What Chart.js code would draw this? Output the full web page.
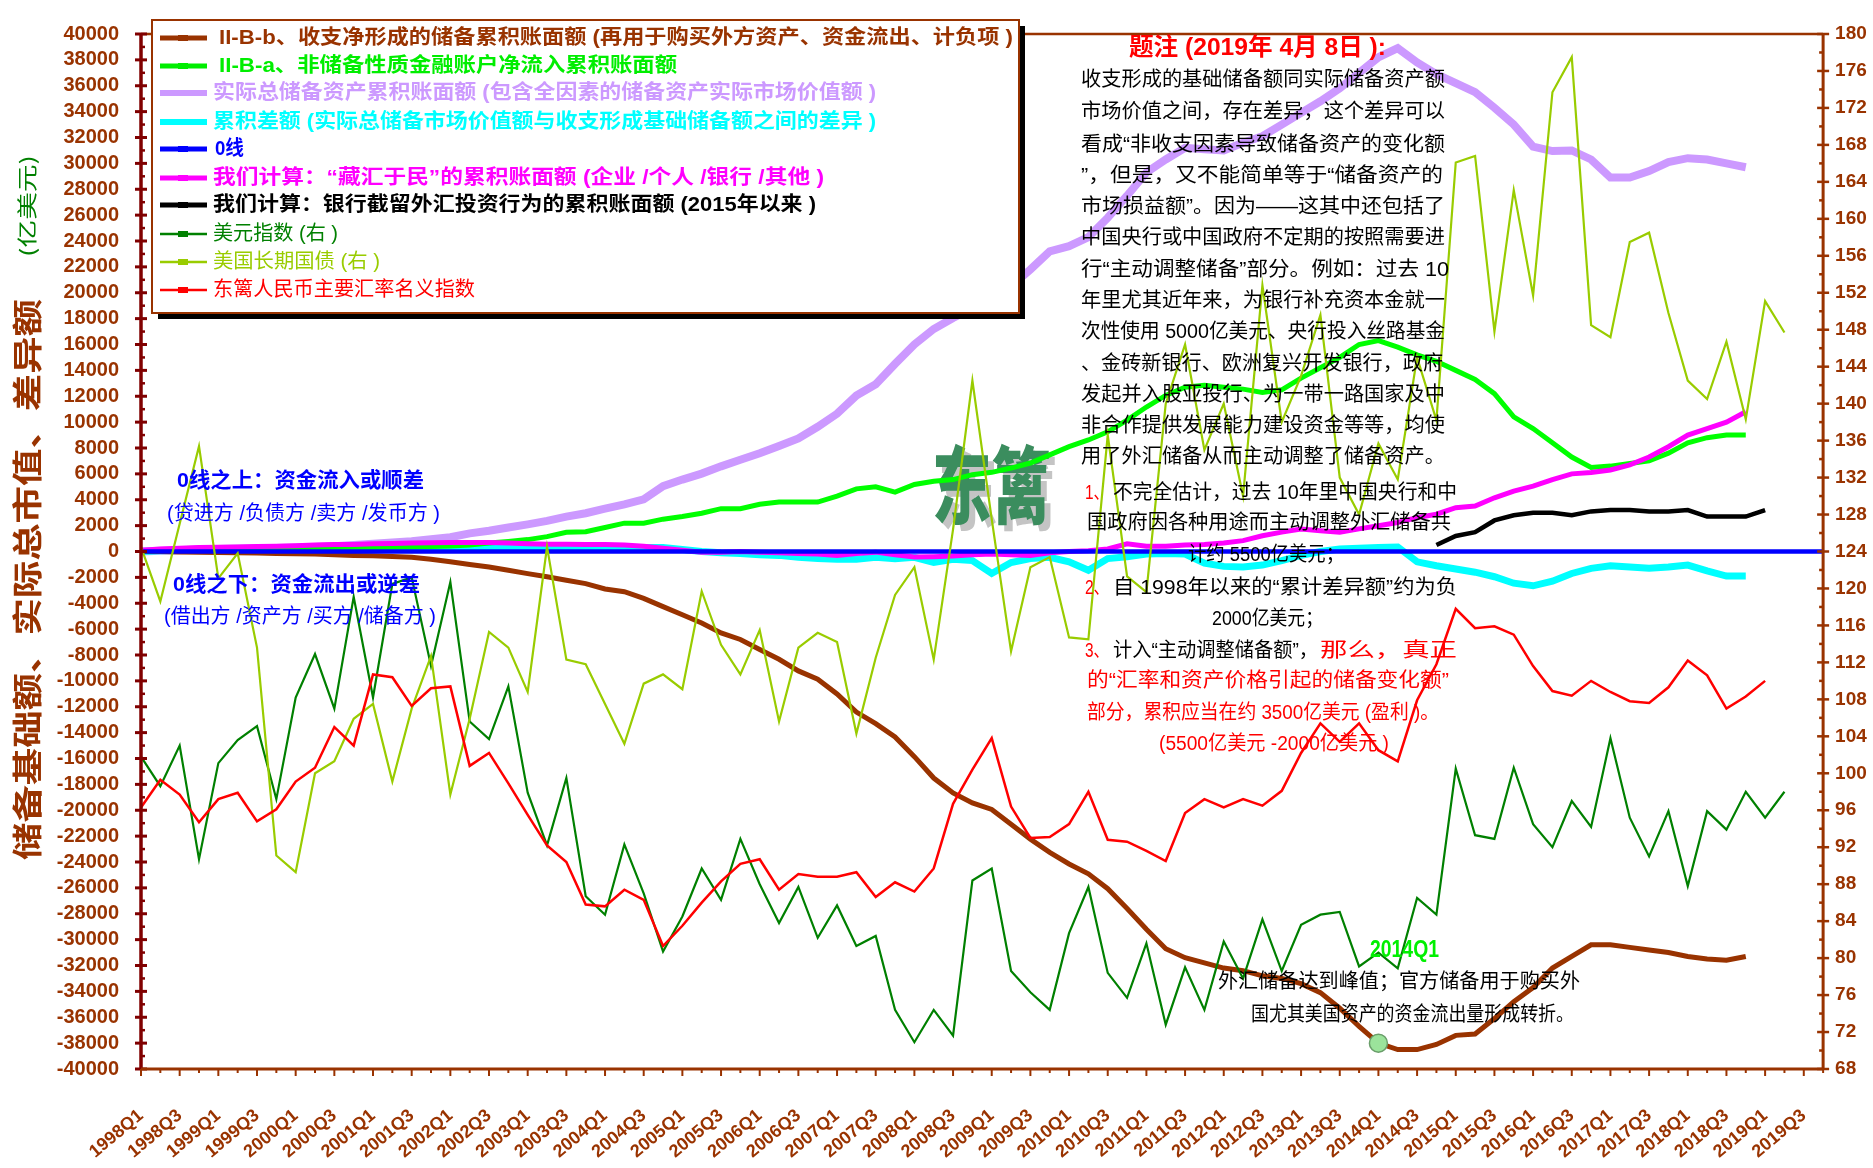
<!DOCTYPE html>
<html lang="zh">
  <head>
    <meta charset="UTF-8" />
    <title>储备基础额、实际总市值、差异额</title>
    <style>
      html, body { margin: 0; padding: 0; background: #ffffff; overflow: hidden; }
      .chartBox { width: 1873px; height: 1168px; }
      canvas { display: block; }
    </style>
  </head>
  <body>
    <div class="chartBox"><canvas id="myChart"></canvas></div>
    <script src="https://cdn.jsdelivr.net/npm/chart.js@4"></script>
    <script>
      // quarters on the x axis (labels shown every second quarter)
      const quarters = [
        "1998Q1","1998Q2","1998Q3","1998Q4","1999Q1","1999Q2","1999Q3","1999Q4",
        "2000Q1","2000Q2","2000Q3","2000Q4","2001Q1","2001Q2","2001Q3","2001Q4",
        "2002Q1","2002Q2","2002Q3","2002Q4","2003Q1","2003Q2","2003Q3","2003Q4",
        "2004Q1","2004Q2","2004Q3","2004Q4","2005Q1","2005Q2","2005Q3","2005Q4",
        "2006Q1","2006Q2","2006Q3","2006Q4","2007Q1","2007Q2","2007Q3","2007Q4",
        "2008Q1","2008Q2","2008Q3","2008Q4","2009Q1","2009Q2","2009Q3","2009Q4",
        "2010Q1","2010Q2","2010Q3","2010Q4","2011Q1","2011Q2","2011Q3","2011Q4",
        "2012Q1","2012Q2","2012Q3","2012Q4","2013Q1","2013Q2","2013Q3","2013Q4",
        "2014Q1","2014Q2","2014Q3","2014Q4","2015Q1","2015Q2","2015Q3","2015Q4",
        "2016Q1","2016Q2","2016Q3","2016Q4","2017Q1","2017Q2","2017Q3","2017Q4",
        "2018Q1","2018Q2","2018Q3","2018Q4","2019Q1","2019Q2","2019Q3","2019Q4",
      ];

      // left axis, 亿美元
      const bopReserves = [
        0, 0, -30, -60, -80, -100, -120, -150, -170, -200,
        -250, -300, -330, -380, -450, -600, -800, -1000, -1200, -1450,
        -1710, -1950, -2220, -2480, -2900, -3110, -3620, -4260, -4890, -5530,
        -6290, -6800, -7570, -8330, -9230, -9870, -11010, -12410, -13310, -14330,
        -15860, -17510, -18660, -19430, -19940, -21080, -22230, -23250, -24150, -24910,
        -26060, -27600, -29200, -30700, -31400, -31800, -32200, -32400, -32800, -33000,
        -33400, -34100, -35300, -36700, -38000, -38500, -38500, -38100, -37400, -37300,
        -36100, -34800, -33700, -32200, -31300, -30400, -30400, -30600, -30800, -31000,
        -31300, -31500, -31600, -31300,
      ];
      const nonReserveFlows = [
        0, 50, 100, 120, 150, 150, 180, 200, 200, 230,
        250, 270, 300, 320, 350, 380, 420, 500, 650, 780,
        920, 1150, 1480, 1530, 1860, 2190, 2190, 2500, 2700, 2960,
        3310, 3310, 3650, 3820, 3820, 3820, 4280, 4840, 5000, 4590,
        5180, 5430, 5560, 5940, 6120, 6450, 6840, 7470, 8110, 8620,
        9250, 10150, 11170, 12060, 12700, 12850, 12700, 12550, 12300, 12500,
        13400, 14200, 15000, 16000, 16300, 15800, 15200, 14700, 14000, 13300,
        12200, 10400, 9500, 8400, 7300, 6500, 6600, 6800, 7000, 7600,
        8400, 8800, 9000, 9000,
      ];
      const totalReserves = [
        0, 50, 100, 150, 200, 230, 250, 280, 300, 350,
        400, 500, 600, 700, 800, 950, 1100, 1400, 1600, 1850,
        2100, 2370, 2700, 2960, 3310, 3650, 4030, 5050, 5560, 6020,
        6580, 7090, 7590, 8160, 8740, 9640, 10650, 12060, 12930, 14500,
        16000, 17200, 18050, 18800, 19700, 20500, 21800, 23200, 23600, 24300,
        25800, 27500, 29300, 30300, 31200, 31100, 31000, 31600, 32100, 33000,
        33900, 34800, 35800, 37000, 38200, 38900, 37800, 36900, 36200, 35500,
        34300, 33000, 31300, 30950, 31000, 30300, 28900, 28900, 29400, 30100,
        30400, 30300, 30000, 29700,
      ];
      const reserveGap = [
        0, 50, 80, 100, 100, 100, 120, 120, 150, 150,
        150, 150, 200, 200, 200, 200, 250, 250, 250, 300,
        300, 300, 300, 300, 300, 300, 300, 300, 150, 0,
        -100, -150, -250, -300, -450, -550, -600, -600, -450, -560,
        -450, -850, -600, -700, -1700, -850, -550, -450, -800, -1450,
        -550, -400, -200, -150, -200, -900, -1150, -1200, -1050, -700,
        -300, 0, 200, 250, 300, 350, -800, -1100, -1350, -1600,
        -1950, -2450, -2650, -2300, -1700, -1300, -1100, -1200, -1300, -1200,
        -1050, -1500, -1900, -1900,
      ];
      const zeroLine = [
        0, 0, 0, 0, 0, 0, 0, 0, 0, 0, 0, 0, 0, 0, 0, 0, 0, 0, 0, 0, 0, 0,
        0, 0, 0, 0, 0, 0, 0, 0, 0, 0, 0, 0, 0, 0, 0, 0, 0, 0, 0, 0, 0, 0,
        0, 0, 0, 0, 0, 0, 0, 0, 0, 0, 0, 0, 0, 0, 0, 0, 0, 0, 0, 0, 0, 0,
        0, 0, 0, 0, 0, 0, 0, 0, 0, 0, 0, 0, 0, 0, 0, 0, 0, 0, 0, 0, 0, 0,
      ];
      const householdFx = [
        100, 200, 250, 300, 330, 350, 380, 400, 450, 500,
        550, 550, 600, 620, 650, 680, 700, 700, 700, 650,
        600, 560, 560, 550, 550, 500, 400, 250, 100, -50,
        -50, 0, -50, -100, -150, -200, -300, -150, -50, -250,
        -430, -400, -350, -250, -200, -250, -300, -100, 0, 50,
        200, 590, 400, 400, 500, 550, 650, 840, 1220, 1500,
        1730, 1600, 1480, 1750, 1990, 2240, 2620, 2880, 3390, 3510,
        4150, 4670, 5050, 5560, 6000, 6100, 6300, 6700, 7300, 8100,
        9000, 9500, 10000, 10800,
      ];
      const bankRetained = [
        null, null, null, null, null, null, null, null, null, null,
        null, null, null, null, null, null, null, null, null, null,
        null, null, null, null, null, null, null, null, null, null,
        null, null, null, null, null, null, null, null, null, null,
        null, null, null, null, null, null, null, null, null, null,
        null, null, null, null, null, null, null, null, null, null,
        null, null, null, null, null, null, null,
        500, 1200, 1500, 2400, 2800, 3000, 3000, 2800, 3100, 3200,
        3200, 3100, 3100, 3200, 2700, 2700, 2700, 3200,
      ];

      // right axis
      const usdIndex = [
        101.8, 98.6, 103.0, 90.7, 101.1, 103.6, 105.1, 97.2, 108.2, 112.9,
        107.0, 119.1, 108.2, 120.5, 121.2, 111.6, 120.7, 105.6, 103.7, 109.4,
        97.9, 92.2, 99.5, 86.7, 84.7, 92.3, 87.0, 80.7, 84.5, 89.7,
        86.3, 92.9, 88.0, 83.8, 87.7, 82.2, 85.7, 81.3, 82.4, 74.4,
        70.9, 74.4, 71.6, 88.4, 89.7, 78.6, 76.3, 74.4, 82.7, 87.7,
        78.4, 75.7, 81.6, 72.8, 79.0, 74.4, 81.8, 77.8, 84.2, 78.6,
        83.6, 84.7, 85.0, 79.1, 80.6, 78.9, 86.5, 84.7, 100.5, 93.3,
        92.9, 100.6, 94.5, 92.0, 97.0, 94.2, 103.8, 95.2, 91.0, 95.9,
        87.8, 95.9, 93.9, 98.0, 95.2, 98.0,
      ];
      const usTreasury = [
        124.5, 118.6, 127.0, 135.4, 121.1, 123.8, 113.6, 91.1, 89.3, 100.0,
        101.3, 105.9, 107.5, 99.1, 107.0, 112.7, 97.7, 105.9, 115.3, 113.6,
        108.8, 124.5, 112.3, 111.8, 107.5, 103.2, 109.7, 110.7, 109.1, 119.7,
        113.9, 110.7, 115.5, 105.6, 113.6, 115.2, 114.2, 104.3, 112.5, 119.3,
        122.3, 112.3, 126.4, 142.5, 127.5, 113.2, 122.3, 123.4, 114.7, 114.5,
        136.6, 121.3, 119.6, 140.0, 146.4, 135.0, 140.0, 130.0, 152.8, 138.0,
        143.0, 149.6, 132.0, 128.0, 135.7, 131.8, 145.0, 138.2, 166.1, 166.8,
        147.8, 163.1, 151.7, 173.7, 177.5, 148.5, 147.2, 157.5, 158.5, 149.8,
        142.5, 140.5, 146.7, 138.3, 151.1, 147.7,
      ];
      const rmbIndex = [
        96.3, 99.3, 97.7, 94.7, 97.2, 97.9, 94.8, 96.1, 99.1, 100.6,
        105.0, 103.0, 110.7, 110.4, 107.3, 109.2, 109.4, 100.8, 102.2, 98.9,
        95.5, 92.2, 90.4, 85.8, 85.6, 87.4, 86.3, 81.3, 83.5, 86.0,
        88.3, 90.2, 90.7, 87.4, 89.1, 88.8, 88.8, 89.3, 86.6, 88.2,
        87.2, 89.7, 96.7, 100.4, 103.8, 96.4, 93.0, 93.1, 94.5, 98.0,
        92.8, 92.6, 91.6, 90.5, 95.7, 97.2, 96.3, 97.2, 96.5, 98.1,
        102.2, 105.4, 103.4, 105.4, 102.5, 101.3, 107.9, 111.8, 117.8, 115.7,
        115.9, 115.0, 111.6, 108.9, 108.4, 110.0, 108.8, 107.8, 107.6, 109.3,
        112.2, 110.6, 107.0, 108.3, 110.0,
      ];

      const BROWN = "#993300";
      const AXIS = "#800000";
      const CJK = '"Noto Sans CJK SC"';
      function fnt(size, bold) {
        return (bold ? "bold " : "") + size + 'px "Liberation Sans", ' + CJK + ", sans-serif";
      }

      // draw a text squeezed/stretched to width w (left aligned at x, middle at y)
      function put(ctx, s, x, y, f, color, w) {
        ctx.save();
        ctx.font = f;
        ctx.fillStyle = color;
        ctx.textBaseline = "middle";
        ctx.textAlign = "left";
        const m = ctx.measureText(s).width;
        ctx.translate(x, y);
        if (w) ctx.scale(w / m, 1);
        ctx.fillText(s, 0, 0);
        ctx.restore();
      }

      const legendRows = [
        ["II-B-b、收支净形成的储备累积账面额 (再用于购买外方资产、资金流出、计负项 )", BROWN, 5, true, 219, 794],
        ["II-B-a、非储备性质金融账户净流入累积账面额", "#00ee00", 5, true, 219, 458],
        ["实际总储备资产累积账面额 (包含全因素的储备资产实际市场价值额 )", "#cc99ff", 8, true, 213, 663],
        ["累积差额 (实际总储备市场价值额与收支形成基础储备额之间的差异 )", "#00ffff", 7, true, 213, 663],
        ["0线", "#0000ff", 5, true, 215, 29],
        ["我们计算：“藏汇于民”的累积账面额 (企业 /个人 /银行 /其他 )", "#ff00ff", 5, true, 213, 611],
        ["我们计算：银行截留外汇投资行为的累积账面额 (2015年以来 )", "#000000", 5, true, 213, 603],
        ["美元指数 (右 )", "#008000", 2.5, false, 213, 125],
        ["美国长期国债 (右 )", "#99cc00", 2.5, false, 213, 167],
        ["东篱人民币主要汇率名义指数", "#ff0000", 2.5, false, 213, 262],
      ];
      const legendY = [38, 66, 93, 122, 149, 178, 205, 234, 262, 290];

      // [text, x, y, width, color, bold, size]
      const notes = [
        ["题注 (2019年 4月 8日 ):", 1129, 48, 257, "#ff0000", true, 24],
        ["收支形成的基础储备额同实际储备资产额", 1081, 80, 364, "#000", false, 20],
        ["市场价值之间，存在差异，这个差异可以", 1081, 112, 364, "#000", false, 20],
        ["看成“非收支因素导致储备资产的变化额", 1081, 145, 364, "#000", false, 20],
        ["”，但是，又不能简单等于“储备资产的", 1081, 176, 362, "#000", false, 20],
        ["市场损益额”。因为——这其中还包括了", 1081, 207, 364, "#000", false, 20],
        ["中国央行或中国政府不定期的按照需要进", 1081, 238, 364, "#000", false, 20],
        ["行“主动调整储备”部分。例如：过去 10", 1081, 270, 368, "#000", false, 20],
        ["年里尤其近年来，为银行补充资本金就一", 1081, 301, 364, "#000", false, 20],
        ["次性使用 5000亿美元、央行投入丝路基金", 1081, 332, 364, "#000", false, 20],
        ["、金砖新银行、欧洲复兴开发银行，政府", 1081, 364, 362, "#000", false, 20],
        ["发起并入股亚投行、为一带一路国家及中", 1081, 395, 364, "#000", false, 20],
        ["非合作提供发展能力建设资金等等，均使", 1081, 426, 364, "#000", false, 20],
        ["用了外汇储备从而主动调整了储备资产。", 1081, 457, 364, "#000", false, 20],
        ["1、", 1085, 493, 24, "#ff0000", false, 20],
        ["不完全估计，过去 10年里中国央行和中", 1113, 493, 344, "#000", false, 20],
        ["国政府因各种用途而主动调整外汇储备共", 1087, 523, 364, "#000", false, 20],
        ["计约 5500亿美元；", 1188, 555, 156, "#000", false, 20],
        ["2、", 1085, 588, 24, "#ff0000", false, 20],
        ["自 1998年以来的“累计差异额”约为负", 1113, 588, 344, "#000", false, 20],
        ["2000亿美元；", 1212, 619, 111, "#000", false, 20],
        ["3、", 1085, 651, 24, "#ff0000", false, 20],
        ["计入“主动调整储备额”，", 1113, 651, 205, "#000", false, 20],
        ["那么，真正", 1320, 651, 137, "#ff0000", false, 20],
        ["的“汇率和资产价格引起的储备变化额”", 1087, 681, 362, "#ff0000", false, 20],
        ["部分，累积应当在约 3500亿美元 (盈利 )。", 1087, 713, 352, "#ff0000", false, 20],
        ["(5500亿美元 -2000亿美元 )", 1159, 744, 230, "#ff0000", false, 20],
        ["0线之上：资金流入或顺差", 177, 481, 247, "#0000ff", true, 21],
        ["(贷进方 /负债方 /卖方 /发币方 )", 167, 514, 273, "#0000ff", false, 20],
        ["0线之下：资金流出或逆差", 173, 585, 247, "#0000ff", true, 21],
        ["(借出方 /资产方 /买方 /储备方 )", 164, 617, 272, "#0000ff", false, 20],
        ["2014Q1", 1370, 951, 69, "#00f000", true, 23],
        ["外汇储备达到峰值；官方储备用于购买外", 1218, 982, 362, "#000", false, 20],
        ["国尤其美国资产的资金流出量形成转折。", 1251, 1015, 323, "#000", false, 20],
      ];

      const decor = {
        id: "decor",
        beforeDatasetsDraw(chart) {
          const ctx = chart.ctx;
          put(ctx, "东篱", 938, 491, "900 84px " + CJK, "#c4c4c4", 119);
          put(ctx, "东篱", 932, 485, "900 84px " + CJK, "#3b8d5e", 119);
        },
        afterDatasetsDraw(chart) {
          const { ctx, chartArea: a, scales } = chart;
          ctx.save();
          // frame
          ctx.strokeStyle = BROWN;
          ctx.lineWidth = 2.5;
          ctx.beginPath();
          ctx.moveTo(a.left, a.top);
          ctx.lineTo(a.right, a.top);
          ctx.stroke();
          // left axis
          ctx.strokeStyle = AXIS;
          ctx.lineWidth = 3.5;
          ctx.beginPath();
          ctx.moveTo(a.left, a.top);
          ctx.lineTo(a.left, a.bottom);
          ctx.stroke();
          for (let v = -40000; v <= 40000; v += 1000) {
            const y = scales.y.getPixelForValue(v);
            const major = v % 2000 === 0;
            ctx.lineWidth = major ? 3 : 2.5;
            ctx.beginPath();
            ctx.moveTo(a.left - (major ? 6 : 0), y);
            ctx.lineTo(a.left + (major ? 6 : 4), y);
            ctx.stroke();
          }
          // right axis
          ctx.strokeStyle = BROWN;
          ctx.lineWidth = 3;
          ctx.beginPath();
          ctx.moveTo(a.right, a.top);
          ctx.lineTo(a.right, a.bottom);
          ctx.stroke();
          for (let v = 68; v <= 180; v += 2) {
            const y = scales.y1.getPixelForValue(v);
            const major = (v - 68) % 4 === 0;
            ctx.lineWidth = 2.5;
            ctx.beginPath();
            ctx.moveTo(a.right - (major ? 6 : 4), y);
            ctx.lineTo(a.right + (major ? 6 : 0), y);
            ctx.stroke();
          }
          // bottom axis
          ctx.lineWidth = 3;
          ctx.beginPath();
          ctx.moveTo(a.left, a.bottom);
          ctx.lineTo(a.right, a.bottom);
          ctx.stroke();
          ctx.lineWidth = 2;
          for (let i = 0; i < quarters.length; i++) {
            const x = scales.x.getPixelForValue(i);
            ctx.beginPath();
            ctx.moveTo(x, a.bottom);
            ctx.lineTo(x, a.bottom + (i % 2 === 0 ? 7 : 4));
            ctx.stroke();
          }

          // legend box
          ctx.fillStyle = "#000";
          ctx.fillRect(158, 26, 867, 293);
          ctx.fillStyle = "#fff";
          ctx.fillRect(152, 20, 867, 293);
          ctx.strokeStyle = BROWN;
          ctx.lineWidth = 2;
          ctx.strokeRect(152, 20, 867, 293);
          legendRows.forEach((r, k) => {
            const y = legendY[k];
            ctx.strokeStyle = r[1];
            ctx.lineWidth = Math.min(r[2], 6);
            ctx.beginPath();
            ctx.moveTo(160, y);
            ctx.lineTo(207, y);
            ctx.stroke();
            ctx.fillStyle = r[1];
            ctx.fillRect(178, y - 3, 10, 6);
            put(ctx, r[0], r[4], y, fnt(20, r[3]), r[1], r[5]);
          });

          // notes
          notes.forEach((n) => put(ctx, n[0], n[1], n[2], fnt(n[6], n[5]), n[4], n[3]));
          ctx.restore();
        },
        afterDraw(chart) {
          const ctx = chart.ctx;
          ctx.save();
          ctx.translate(27, 0);
          ctx.rotate(-Math.PI / 2);
          put(ctx, "储备基础额、实际总市值、差异额", -860, 0, "bold 30px " + CJK, BROWN, 561);
          put(ctx, "(亿美元)", -257, 0, "20px " + CJK, "#008000", 102);
          ctx.restore();
        },
      };

      function line(label, data, color, width, axis, order) {
        return {
          label: label,
          data: data,
          borderColor: color,
          backgroundColor: color,
          borderWidth: width,
          pointRadius: 0,
          tension: 0,
          fill: false,
          yAxisID: axis,
          order: order,
        };
      }

      const brownSet = line("II-B-b", bopReserves, BROWN, 5, "y", 9);
      brownSet.pointRadius = (c) => (c.dataIndex === 64 ? 9 : 0);
      brownSet.pointBackgroundColor = "#9be39b";
      brownSet.pointBorderColor = "#6a9e6a";
      brownSet.pointBorderWidth = 1.5;

      const noGrid = { display: false, drawTicks: false };

      const ctx = document.getElementById("myChart").getContext("2d");
      const myChart = new Chart(ctx, {
        type: "line",
        data: {
          labels: quarters,
          datasets: [
            brownSet,
            line("II-B-a", nonReserveFlows, "#00ff00", 5, "y", 8),
            line("实际总储备资产", totalReserves, "#cc99ff", 8, "y", 11),
            line("累积差额", reserveGap, "#00ffff", 7, "y", 10),
            line("0线", zeroLine, "#0000ff", 4.5, "y", 5),
            line("藏汇于民", householdFx, "#ff00ff", 5, "y", 6),
            line("银行截留", bankRetained, "#000000", 4.5, "y", 4),
            line("美元指数", usdIndex, "#008000", 2.2, "y1", 3),
            line("美国长期国债", usTreasury, "#99cc00", 2.2, "y1", 2),
            line("东篱人民币", rmbIndex, "#ff0000", 2.5, "y1", 1),
          ],
        },
        options: {
          responsive: true,
          maintainAspectRatio: false,
          animation: false,
          devicePixelRatio: 1,
          layout: { padding: { top: 23, left: 0, right: 0, bottom: 0 } },
          plugins: { legend: { display: false }, tooltip: { enabled: false } },
          scales: {
            x: {
              grid: noGrid,
              border: { display: false },
              afterFit: (s) => { s.height = 99; },
              ticks: {
                autoSkip: false,
                minRotation: 40,
                maxRotation: 40,
                padding: 36,
                color: BROWN,
                font: { family: "Liberation Sans", size: 18, weight: "bold" },
                callback: function (val, idx) {
                  return idx % 2 === 0 ? this.getLabelForValue(val) : "";
                },
              },
            },
            y: {
              position: "left",
              min: -40000,
              max: 40000,
              grid: noGrid,
              border: { display: false },
              afterFit: (s) => { s.width = 141; },
              ticks: {
                autoSkip: false,
                stepSize: 2000,
                padding: 22,
                color: BROWN,
                font: { family: "Liberation Sans", size: 20, weight: "bold" },
                callback: (v) => String(v),
              },
            },
            y1: {
              position: "right",
              min: 68,
              max: 180,
              grid: noGrid,
              border: { display: false },
              afterFit: (s) => { s.width = 45; },
              ticks: {
                autoSkip: false,
                stepSize: 4,
                padding: 12,
                color: BROWN,
                font: { family: "Liberation Sans", size: 19, weight: "bold" },
                callback: (v) => String(v),
              },
            },
          },
        },
        plugins: [decor],
      });
    </script>
  </body>
</html>
